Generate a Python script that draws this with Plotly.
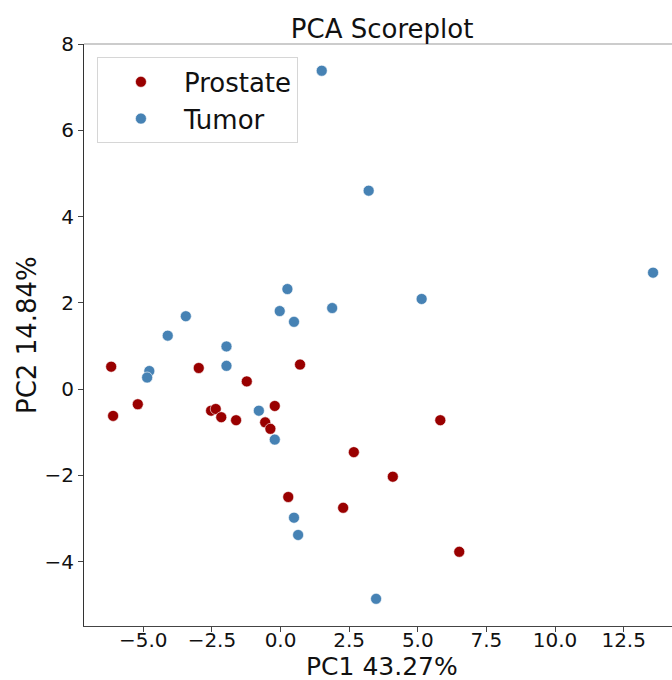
import plotly.graph_objects as go

# PCA scores
prostate_pc1 = [-6.17, -6.10, -5.20, -2.98, -1.23, -2.53, -2.36, -2.16, -1.62, -0.56,
                -0.37, -0.21, 0.71, 5.82, 2.67, 4.09, 0.28, 2.28, 6.51]
prostate_pc2 = [0.52, -0.62, -0.35, 0.49, 0.18, -0.50, -0.46, -0.65, -0.72, -0.77,
                -0.92, -0.39, 0.57, -0.72, -1.46, -2.03, -2.50, -2.75, -3.77]

tumor_pc1 = [1.50, 3.21, 13.57, 5.14, 0.25, 1.88, -0.03, 0.49, -3.45, -4.11,
             -1.97, -1.97, -4.78, -4.86, -0.79, -0.21, 0.49, 0.64, 3.48]
tumor_pc2 = [7.38, 4.60, 2.70, 2.09, 2.32, 1.88, 1.81, 1.56, 1.69, 1.24,
             0.99, 0.54, 0.42, 0.27, -0.50, -1.17, -2.98, -3.38, -4.86]

group_names = ["Prostate", "Tumor"]
group_colors = ["#990000", "#4682B4"]

x_ticks = [-5.0, -2.5, 0.0, 2.5, 5.0, 7.5, 10.0, 12.5]
y_ticks = [-4, -2, 0, 2, 4, 6, 8]

x_title = "PC1 43.27%"
y_title = "PC2 14.84%"
chart_title = "PCA Scoreplot"

FONT = "DejaVu Sans"

fig = go.Figure()
for name, color, xs, ys in zip(group_names, group_colors,
                               [prostate_pc1, tumor_pc1], [prostate_pc2, tumor_pc2]):
    fig.add_trace(go.Scatter(
        x=xs, y=ys, mode="markers", name=name,
        marker=dict(color=color, size=11, line=dict(color="white", width=0.6)),
    ))

fig.update_layout(
    width=672, height=680,
    margin=dict(l=84, r=0, t=44, b=54, autoexpand=False),
    paper_bgcolor="white", plot_bgcolor="white",
    font=dict(family=FONT, color="#111111"),
    title=dict(text=chart_title, x=0.507, xref="paper", xanchor="center",
               y=1, yref="paper", yanchor="bottom", pad=dict(b=6),
               font=dict(size=26, family=FONT, color="#111111")),
    showlegend=True,
    legend=dict(x=0.022, y=0.977, xanchor="left", yanchor="top",
                bgcolor="white", bordercolor="#d6d6d6", borderwidth=1,
                font=dict(size=26, family=FONT, color="#111111"),
                itemwidth=76, tracegroupgap=0),
)

fig.update_xaxes(
    range=[-7.16, 14.26], tickvals=x_ticks, tickformat=".1f",
    showgrid=False, zeroline=False, automargin=False,
    showline=True, linecolor="#444444", linewidth=1,
    ticks="outside", ticklen=5, tickcolor="#444444", tickwidth=1,
    ticklabelstandoff=-9,
    tickfont=dict(size=20, family=FONT, color="#111111"),
)
fig.update_yaxes(
    range=[-5.49, 8.0], tickvals=y_ticks,
    showgrid=False, zeroline=False, automargin=False,
    showline=True, linecolor="#333333", linewidth=1,
    ticks="outside", ticklen=5, tickcolor="#444444", tickwidth=1,
    tickfont=dict(size=20, family=FONT, color="#111111"),
)

# axis titles
fig.add_annotation(text=x_title, xref="paper", yref="paper", x=0.507, y=0,
                   xanchor="center", yanchor="middle", yshift=-40, showarrow=False,
                   font=dict(size=25, family=FONT, color="#111111"))
fig.add_annotation(text=y_title, xref="paper", yref="paper", x=0, y=0.5,
                   xanchor="center", yanchor="middle", xshift=-57, textangle=-90,
                   showarrow=False, font=dict(size=26, family=FONT, color="#111111"))

# top spine (lighter gray)
fig.add_shape(type="line", xref="paper", yref="paper", x0=0, x1=1, y0=1, y1=1,
              line=dict(color="#999999", width=1))

fig.write_html("out.html")
